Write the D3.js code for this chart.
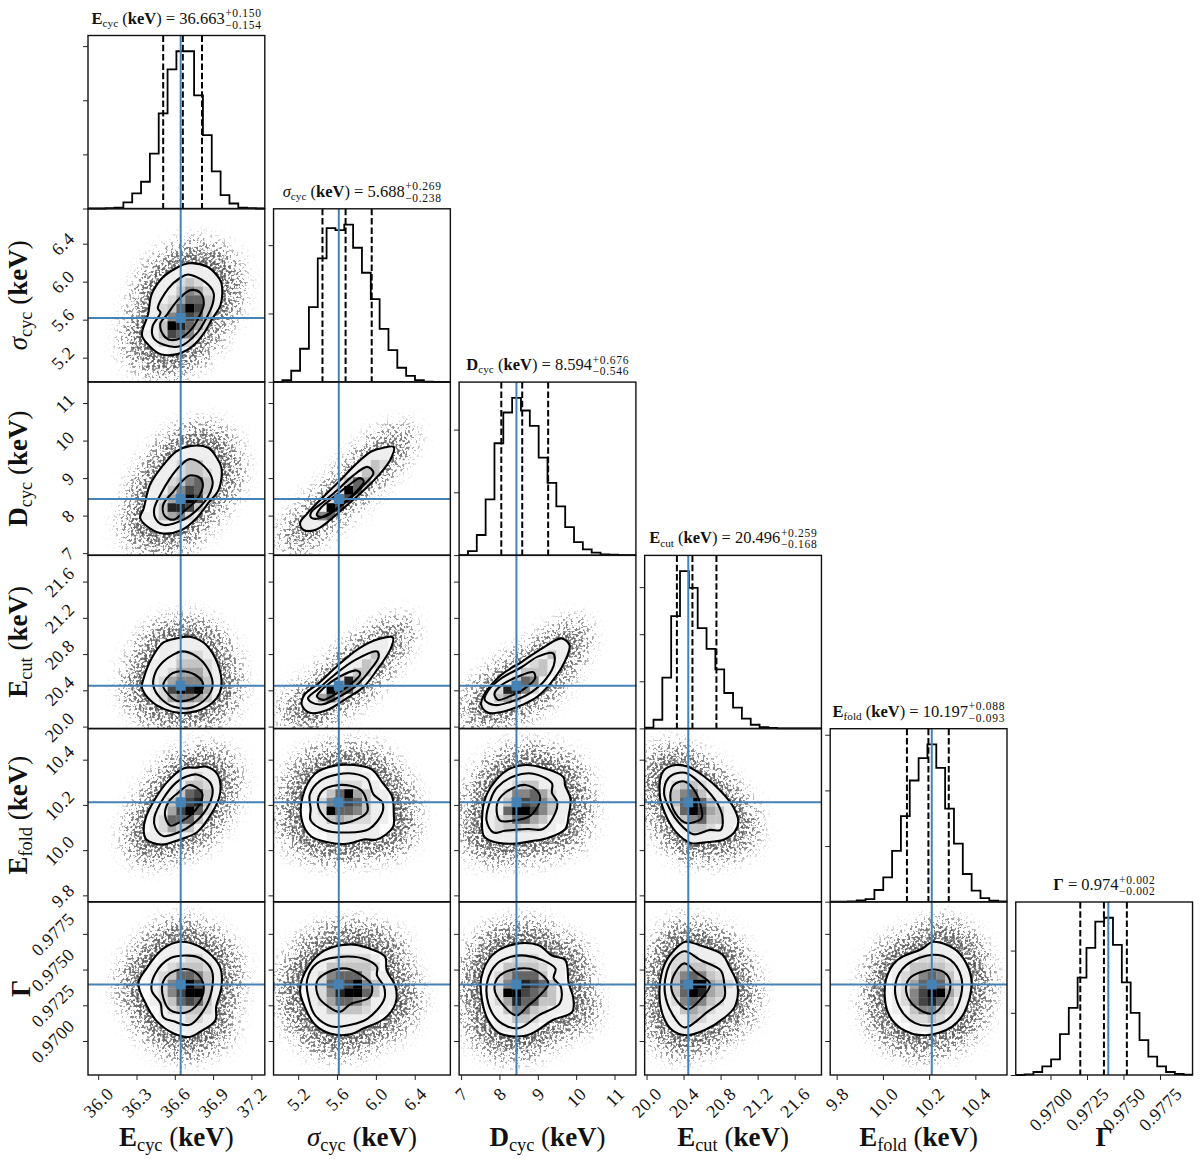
<!DOCTYPE html>
<html>
<head>
<meta charset="utf-8">
<style>
  body { margin: 0; background: #fff; }
  svg text { font-family: "Liberation Serif", serif; fill: #111; white-space: pre; }
</style>
<script src="https://cdn.jsdelivr.net/npm/d3@7"></script>
</head>
<body>
<svg id="chart" width="1200" height="1159"></svg>
<script>
// parameter names
var symbols = ["E", "σ", "D", "E", "E", "Γ"];
var subscripts = ["cyc", "cyc", "cyc", "cut", "fold", ""];

// axis ranges and ticks
var ranges = [[35.92, 37.305], [4.946, 6.767], [6.948, 11.558], [19.98, 21.889], [9.772, 10.537], [0.96762, 0.97973]];
var tickValues = [[36.0, 36.3, 36.6, 36.9, 37.2], [5.2, 5.6, 6.0, 6.4], [7, 8, 9, 10, 11], [20.0, 20.4, 20.8, 21.2, 21.6], [9.8, 10.0, 10.2, 10.4], [0.97, 0.9725, 0.975, 0.9775]];
var tickLabels = [["36.0", "36.3", "36.6", "36.9", "37.2"], ["5.2", "5.6", "6.0", "6.4"], ["7", "8", "9", "10", "11"], ["20.0", "20.4", "20.8", "21.2", "21.6"], ["9.8", "10.0", "10.2", "10.4"], ["0.9700", "0.9725", "0.9750", "0.9775"]];

// truth values (blue lines), quantiles (dashed), title strings
var truths = [36.646, 5.618, 8.443, 20.451, 10.2115, 0.97396];
var quantiles = [[36.509, 36.663, 36.813], [5.45, 5.688, 5.957], [8.048, 8.594, 9.27], [20.328, 20.496, 20.755], [10.104, 10.197, 10.285], [0.97204, 0.97366, 0.97523]];
var titleMedian = ["36.663", "5.688", "8.594", "20.496", "10.197", "0.974"];
var titlePlus = ["+0.150", "+0.269", "+0.676", "+0.259", "+0.088", "+0.002"];
var titleMinus = ["−0.154", "−0.238", "−0.546", "−0.168", "−0.093", "−0.002"];

// histogram counts, 20 bins per parameter
var hist0 = [0, 0, 3, 9, 56, 139, 247, 507, 878, 1286, 1453, 1453, 1045, 677, 343, 124, 46, 9, 3, 0];
var hist1 = [0, 12, 81, 242, 547, 903, 1125, 1110, 1151, 981, 798, 605, 388, 232, 103, 44, 12, 2, 0, 0];
var hist2 = [0, 32, 160, 444, 891, 1136, 1253, 1152, 1029, 777, 575, 388, 223, 104, 45, 19, 5, 3, 0, 0];
var hist3 = [7, 92, 539, 1192, 1670, 1493, 1064, 844, 627, 376, 220, 103, 39, 14, 4, 0, 0, 0, 0, 0];
var hist4 = [0, 0, 3, 12, 24, 105, 219, 456, 768, 1089, 1290, 1413, 1203, 837, 522, 249, 99, 33, 9, 3];
var hist5 = [0, 5, 24, 70, 126, 328, 540, 783, 1022, 1232, 1264, 1046, 745, 500, 280, 148, 70, 24, 8, 3];
var hists = [hist0, hist1, hist2, hist3, hist4, hist5];
var histTicks = [[0, 500, 1000, 1500], [0, 500, 1000], [0, 500, 1000], [0, 500, 1000, 1500], [0, 500, 1000, 1500], [0, 500, 1000]];

// contours, read on the 20x20 histogram grid (x bin, y bin pairs): outer, middle, inner
var contours10 = [
  [11.4,13.7, 13.5,13.3, 14.5,12.4, 15.1,11.4, 15.0,8.9, 14.0,7.2, 13.1,5.6, 11.8,4.1, 10.1,3.2, 8.2,3.2, 6.8,4.3, 6.1,5.4, 6.8,7.8, 7.2,10.1, 8.4,12.0, 9.9,13.1],
  [11.3,12.4, 13.3,11.5, 14.2,10.3, 14.1,9.0, 13.3,7.2, 12.3,5.6, 10.4,4.1, 8.5,4.3, 7.4,5.1, 7.3,6.4, 8.2,8.0, 7.9,8.5, 9.1,10.8, 10.4,12.0],
  [11.6,10.6, 12.7,10.3, 13.1,9.0, 12.5,7.4, 11.8,6.2, 10.4,5.0, 9.1,4.9, 8.4,5.6, 8.2,6.8, 8.9,7.7, 10.2,9.5]];
var contours20 = [
  [11.5,12.6, 13.6,12.4, 14.6,11.2, 15.1,10.1, 14.8,7.6, 13.6,6.0, 12.3,4.3, 10.6,2.9, 8.5,2.5, 7.0,3.1, 5.9,4.3, 6.3,5.4, 7.0,8.1, 8.5,10.4, 10.0,12.0],
  [11.5,11.1, 13.1,10.3, 14.1,8.5, 13.6,6.8, 12.3,5.2, 10.8,4.1, 8.5,3.5, 7.6,4.3, 7.5,5.4, 8.2,7.0, 9.3,8.9, 10.4,10.3],
  [11.5,9.2, 12.7,8.9, 13.0,8.1, 12.3,6.4, 11.0,5.2, 9.7,4.1, 8.7,4.5, 8.5,5.8, 9.7,7.4, 10.6,8.5]];
var contours21 = [
  [13.6,12.5, 13.2,11.0, 11.9,9.25, 10.0,7.3, 7.9,5.4, 6.2,3.9, 4.7,2.9, 3.4,2.9, 3.0,3.7, 3.8,4.8, 5.5,6.6, 7.4,8.5, 9.2,10.4, 11.1,12.0, 12.4,12.4],
  [10.6,10.2, 11.3,9.5, 10.2,8.1, 8.5,6.4, 6.6,5.0, 4.9,4.2, 4.2,4.4, 4.3,5.0, 5.7,6.2, 7.2,7.5, 8.9,9.1],
  [9.8,8.9, 10.2,8.5, 8.9,6.9, 7.2,5.4, 5.7,4.4, 4.9,4.6, 5.3,5.4, 6.8,6.7, 8.3,7.9]];
var contours30 = [
  [11.5,10.6, 13.1,9.9, 14.4,8.1, 15.1,5.6, 14.9,4.1, 14.0,2.9, 12.3,2.0, 10.4,1.8, 8.7,2.2, 7.2,3.1, 6.1,4.7, 6.3,5.8, 7.2,8.1, 8.5,9.9, 10.0,10.4],
  [10.6,8.9, 12.3,8.3, 13.6,6.8, 14.1,4.9, 13.4,3.5, 11.7,2.4, 9.7,2.5, 8.2,3.5, 7.4,4.9, 7.6,6.4, 8.5,7.7, 9.6,8.5],
  [10.6,6.6, 12.1,6.2, 13.0,5.2, 12.7,4.1, 11.5,3.3, 10.0,3.2, 9.1,3.9, 8.5,4.9, 8.9,5.8, 9.6,6.4]];
var contours31 = [
  [13.5,10.5, 13.2,9.1, 11.8,6.9, 10.2,4.8, 8.3,3.5, 6.0,2.1, 4.1,1.8, 3.2,2.7, 3.5,3.9, 5.1,5.2, 7.3,7.3, 9.6,9.2, 11.8,10.3],
  [11.7,8.9, 11.9,8.3, 10.9,6.7, 9.2,4.8, 7.5,3.7, 5.6,2.8, 4.3,3.0, 3.9,3.5, 5.1,4.6, 6.9,6.2, 9.2,7.9],
  [9.4,6.7, 9.8,6.3, 8.6,5.0, 6.9,3.9, 5.6,3.3, 4.9,3.7, 5.6,4.6, 7.5,6.0]];
var contours32 = [
  [11.6,10.4, 12.5,9.6, 12.2,8.3, 10.8,5.8, 8.9,3.7, 7.1,2.7, 4.8,1.9, 3.3,1.8, 2.5,2.7, 2.9,4.0, 4.8,6.2, 7.1,7.7, 9.3,9.2],
  [10.6,8.7, 10.8,7.7, 9.9,5.8, 8.2,4.2, 5.9,3.1, 4.0,2.7, 2.9,3.3, 3.3,4.4, 4.8,5.8, 7.1,7.1, 8.9,8.3],
  [8.4,6.5, 8.6,5.8, 7.4,4.6, 5.7,3.7, 4.4,3.3, 4.0,4.0, 4.8,5.0, 6.7,6.0]];
var contours40 = [
  [13.4,15.6, 14.6,14.8, 15.0,13.4, 14.8,11.9, 13.6,9.6, 12.3,8.0, 10.4,7.2, 8.3,6.6, 6.6,7.2, 6.3,8.2, 6.5,9.6, 7.6,11.9, 9.1,14.0, 10.8,15.4, 12.3,15.5],
  [12.3,14.7, 13.8,13.8, 14.1,12.6, 13.4,10.7, 11.9,9.0, 10.2,8.0, 8.5,7.6, 7.6,8.6, 7.5,9.7, 8.5,11.9, 10.0,13.8, 11.2,14.5],
  [11.5,13.5, 12.9,12.6, 12.9,11.9, 11.9,10.3, 10.4,9.2, 9.3,8.8, 8.7,10.1, 9.1,11.5, 10.2,12.6]];
var contours41 = [
  [9.1,15.8, 11.1,15.3, 12.3,13.8, 13.4,12.2, 13.6,10.1, 13.5,8.6, 11.7,7.2, 10.2,7.2, 8.3,6.7, 6.0,6.9, 4.2,7.6, 3.2,9.4, 3.3,12.2, 4.7,14.8, 6.8,15.7],
  [9.1,14.8, 10.6,14.2, 11.3,12.4, 12.3,11.5, 12.3,10.3, 10.8,8.4, 8.3,8.0, 5.7,8.3, 4.2,9.4, 4.2,10.7, 4.1,12.4, 5.3,14.0, 7.2,14.7],
  [8.7,13.4, 10.0,12.8, 10.6,11.3, 10.6,10.4, 9.1,9.4, 6.8,9.1, 5.5,10.1, 5.0,11.5, 5.5,12.8, 6.8,13.4]];
var contours42 = [
  [7.5,15.8, 9.7,15.4, 11.8,14.4, 12.0,13.4, 12.6,11.9, 12.4,10.0, 12.0,8.4, 10.1,7.4, 8.2,7.0, 6.0,6.7, 3.7,7.0, 2.8,7.6, 2.6,9.7, 3.0,12.1, 4.3,14.2, 5.6,15.3],
  [8.4,14.8, 10.5,13.7, 10.5,12.6, 11.1,11.5, 10.9,10.3, 9.5,8.4, 7.8,8.4, 5.2,8.2, 3.9,8.0, 3.1,9.4, 3.6,11.9, 4.3,13.2, 6.2,14.5],
  [7.5,13.5, 9.0,12.6, 9.1,11.5, 8.0,9.9, 6.3,9.4, 4.6,9.4, 4.3,11.3, 5.2,12.6]];
var contours43 = [
  [3.5,15.8, 4.9,15.6, 6.7,14.5, 8.6,12.8, 10.0,11.0, 10.6,9.3, 10.2,8.1, 9.0,7.2, 7.2,6.9, 5.2,6.8, 3.5,8.1, 2.3,10.2, 1.7,12.5, 2.1,15.1],
  [3.9,14.9, 4.9,14.8, 6.5,13.5, 8.2,11.4, 8.8,9.8, 8.6,8.3, 7.4,8.3, 5.5,7.8, 3.9,9.1, 2.9,10.6, 2.2,12.5, 2.7,14.3],
  [4.5,13.9, 5.9,12.4, 6.5,9.8, 6.3,9.5, 4.7,9.1, 3.5,10.2, 2.9,12.2, 3.3,13.5]];
var contours50 = [
  [10.4,15.4, 12.3,15.0, 14.0,13.8, 15.0,12.3, 15.1,10.2, 14.5,7.9, 14.4,6.3, 12.7,5.0, 11.5,4.4, 9.7,4.8, 7.8,6.2, 6.6,8.1, 5.7,10.6, 6.6,12.3, 8.5,14.6],
  [11.4,13.8, 12.7,13.5, 14.0,12.1, 14.0,9.8, 13.1,7.5, 11.5,5.8, 9.7,6.2, 8.5,6.7, 8.2,8.3, 7.2,9.8, 7.6,11.7, 9.3,13.5],
  [11.4,12.2, 12.7,11.3, 13.1,10.0, 12.5,8.3, 11.0,7.2, 9.3,7.5, 8.5,9.0, 8.5,10.8, 9.5,11.9]];
var contours51 = [
  [8.7,15.1, 10.6,14.7, 12.6,13.7, 12.8,12.1, 13.8,10.2, 13.8,8.3, 12.5,6.5, 10.2,5.4, 8.7,4.7, 6.4,4.8, 4.7,5.8, 3.6,7.7, 3.0,9.8, 3.9,12.5, 5.8,14.4],
  [8.3,13.7, 10.6,13.3, 11.7,12.5, 11.7,11.5, 12.5,10.2, 12.5,8.7, 10.6,6.5, 8.7,5.8, 6.6,5.6, 4.7,6.9, 4.0,8.7, 3.8,11.0, 4.9,12.9],
  [8.3,12.3, 10.0,11.5, 11.1,10.4, 10.9,9.0, 8.7,8.2, 7.5,7.3, 6.2,7.9, 5.1,9.0, 4.9,10.8, 6.2,11.9]];
var contours52 = [
  [6.2,15.1, 9.0,15.0, 10.5,13.8, 12.0,13.3, 12.4,10.6, 12.9,9.0, 12.8,7.3, 10.5,6.3, 8.6,5.0, 7.3,4.5, 4.6,4.8, 3.3,6.3, 2.6,8.6, 2.5,11.2, 3.7,13.8],
  [7.5,13.8, 9.4,13.3, 10.9,12.3, 10.7,11.2, 11.5,10.2, 11.4,8.3, 9.0,6.9, 6.7,5.4, 4.5,6.2, 3.3,8.3, 3.2,10.8, 4.3,12.9, 6.0,13.7],
  [6.7,12.3, 8.6,12.1, 10.1,10.6, 9.3,9.4, 7.7,7.9, 6.5,6.9, 4.8,8.3, 4.0,10.0, 4.6,11.5]];
var contours53 = [
  [4.6,15.4, 6.5,14.9, 8.8,13.9, 9.6,12.5, 10.5,10.4, 10.2,7.9, 9.0,6.6, 6.8,5.2, 4.7,4.6, 3.1,5.2, 2.0,7.1, 1.7,10.2, 2.3,12.9, 3.5,14.6],
  [4.5,14.3, 6.3,13.3, 8.6,12.1, 9.0,10.6, 9.0,8.9, 7.1,7.3, 4.5,5.5, 3.1,7.1, 2.3,9.4, 2.5,11.9, 3.3,13.5],
  [4.5,12.9, 5.9,11.8, 7.4,10.5, 6.1,8.5, 4.9,7.6, 3.7,8.5, 3.0,10.2, 3.5,11.9]];
var contours54 = [
  [10.4,14.6, 11.6,15.4, 14.0,14.6, 15.4,12.9, 16.0,10.6, 15.2,7.3, 13.8,5.6, 10.8,4.6, 8.0,5.4, 6.5,7.3, 6.3,11.0, 7.6,13.3],
  [11.6,13.9, 13.6,13.3, 14.8,11.4, 14.8,9.2, 13.6,6.7, 12.0,5.8, 9.6,6.0, 7.8,7.9, 7.4,10.6, 8.6,12.7],
  [11.8,12.2, 13.2,11.6, 13.6,10.4, 13.0,8.5, 11.6,7.1, 9.6,7.9, 8.6,9.6, 9.0,11.2]];

// 2d histogram darkness (0 white .. 9 black): first x bin, lowest y bin, rows from the top
var cells10 = [6, 3, ["0000011000", "0011111110", "0011232110", "0111354210", "0112466310", "0123697310", "0125776310", "0139864210", "1137652100", "0122221000", "0001100000"]];
var cells20 = [6, 3, ["0000011100", "0001111110", "0011233110", "0011233210", "0112356310", "0113576310", "0124797210", "0138873100", "1134521000", "0111111000"]];
var cells21 = [3, 2, ["00000000011", "00000001111", "00000011320", "00000113310", "00001364100", "00012963100", "00126731000", "01197310000", "11563100000", "11110000000", "11000000000"]];
var cells30 = [6, 1, ["0001111000", "0011111100", "0011222110", "0111333210", "0112444210", "0124555310", "0127989411", "0124554310", "0011221110", "0000110000"]];
var cells31 = [3, 1, ["00000000110", "00000001110", "00000111310", "00000113200", "00001133100", "00012841000", "00196620000", "01463100000", "11110000000", "10000000000"]];
var cells32 = [2, 2, ["00000000110", "00000001111", "00000111311", "00001123110", "00011333100", "00113651000", "01288520000", "11343100000", "11111000000"]];
var cells40 = [6, 6, ["0000011100", "0000112110", "0001133210", "0011367310", "0013578310", "0114796210", "0126663110", "0124331100", "1111111000", "0011000000"]];
var cells41 = [3, 6, ["00000110000", "00111111000", "01112221100", "01136943110", "01258763110", "01296653110", "01134322110", "00111111100", "00011111100", "00000100000"]];
var cells42 = [2, 6, ["00001111000", "00111111110", "01112331110", "01125564211", "01136765311", "01169975311", "01236643110", "01233221100", "01111111000", "00011000000"]];
var cells43 = [1, 6, ["01111000000", "01111110000", "01233211000", "01356311100", "01369631110", "01269743110", "00135633110", "00013321100", "00001111110", "00001100000"]];
var cells50 = [6, 4, ["0000100000", "0011111100", "0011122110", "0112333210", "0123665310", "0125797311", "0125799311", "0123676310", "0012333210", "0011122110", "0001111110", "0000011000"]];
var cells51 = [3, 4, ["00011110000", "01111111000", "01112222100", "01133333200", "01256663110", "01267795311", "01258996311", "01246653111", "01133332110", "00111111100", "00011111000", "00001100000"]];
var cells52 = [2, 4, ["00011110000", "01111111000", "01112221110", "01133332110", "01246663110", "01257876310", "01299765311", "01248663311", "01135532111", "00113321100", "00111110000", "00001100000"]];
var cells53 = [1, 4, ["01111000000", "01111111000", "01222111100", "01233321100", "01356532110", "01369943211", "01369843110", "01256532110", "01134321100", "01113211000", "00111110000", "00010000000"]];
var cells54 = [6, 4, ["00000110000", "00111111000", "01112221100", "01133332110", "01235653110", "01246863210", "01257994210", "01257863110", "01135532110", "00122321100", "00011111000", "00000100000"]];

var contourTable = {"1,0": contours10, "2,0": contours20, "2,1": contours21, "3,0": contours30, "3,1": contours31, "3,2": contours32, "4,0": contours40, "4,1": contours41, "4,2": contours42, "4,3": contours43, "5,0": contours50, "5,1": contours51, "5,2": contours52, "5,3": contours53, "5,4": contours54};
var cellTable = {"1,0": cells10, "2,0": cells20, "2,1": cells21, "3,0": cells30, "3,1": cells31, "3,2": cells32, "4,0": cells40, "4,1": cells41, "4,2": cells42, "4,3": cells43, "5,0": cells50, "5,1": cells51, "5,2": cells52, "5,3": cells53, "5,4": cells54};

var blue = "#4682b4";
var panelW = 176.8, panelH = 173;
var svg = d3.select("#chart");
var grey = d3.scaleLinear().domain([0, 1, 3, 5, 7, 9]).range(["#fbfbfb", "#eeeeee", "#c4c4c4", "#858585", "#454545", "#000000"]);

function colX(i) { return 88 + i * 185.55; }
function rowY(i) { return 35.5 + i * 173.3; }

function pairs(flat) {
  var out = [];
  for (var i = 0; i < flat.length; i += 2) out.push([flat[i], flat[i + 1]]);
  return out;
}

// speckle standing in for the cloud of samples outside the contours:
// noise + blurred shape - 1, so the dots thin out as the shape fades
var defs = svg.append("defs");
var speck = defs.append("filter").attr("id", "speck").attr("filterUnits", "userSpaceOnUse")
  .attr("x", 0).attr("y", 0).attr("width", 1200).attr("height", 1159)
  .attr("color-interpolation-filters", "sRGB");
speck.append("feGaussianBlur").attr("in", "SourceGraphic").attr("stdDeviation", 11).attr("result", "soft");
speck.append("feTurbulence").attr("type", "fractalNoise").attr("baseFrequency", 0.38).attr("numOctaves", 2).attr("seed", 4).attr("result", "noise");
speck.append("feColorMatrix").attr("in", "noise").attr("type", "matrix")
  .attr("values", "0 0 0 0 0  0 0 0 0 0  0 0 0 0 0  3.4 0 0 0 -1.2").attr("result", "dots");
speck.append("feComposite").attr("in", "soft").attr("in2", "dots").attr("operator", "arithmetic")
  .attr("k1", 0).attr("k2", 0.9).attr("k3", 1).attr("k4", -1).attr("result", "mix");
var fade = speck.append("feComponentTransfer").attr("in", "mix").attr("result", "spots");
fade.append("feFuncR").attr("type", "linear").attr("slope", 0);
fade.append("feFuncG").attr("type", "linear").attr("slope", 0);
fade.append("feFuncB").attr("type", "linear").attr("slope", 0);
fade.append("feFuncA").attr("type", "table").attr("tableValues", "0 0.38 0.52 0.62 0.68");
speck.append("feGaussianBlur").attr("in", "spots").attr("stdDeviation", 0.7);

// label with bold symbols and a small subscript, as tspans
function mathLabel(text, param, size, withUnit) {
  var subSize = size * 0.68, drop = size * 0.2;
  var isSigma = symbols[param] === "σ";
  text.append("tspan").attr("font-weight", isSigma ? "normal" : "bold").attr("font-style", isSigma ? "italic" : "normal").text(symbols[param]);
  if (subscripts[param]) {
    text.append("tspan").attr("font-size", subSize).attr("dy", drop).text(subscripts[param]);
    text.append("tspan").attr("dy", -drop).attr("font-size", size).text(" ");
  }
  if (withUnit && param < 5) {
    text.append("tspan").attr("font-size", size).text("(");
    text.append("tspan").attr("font-size", size).attr("font-weight", "bold").text("keV");
    text.append("tspan").attr("font-size", size).text(")");
  }
}

function drawTitle(param) {
  var cx = colX(param) + panelW / 2, base = rowY(param) - 12;
  var g = svg.append("g").attr("class", "title");
  var main = g.append("text").attr("y", base).attr("font-size", 16.5);
  mathLabel(main, param, 16.5, true);
  main.append("tspan").attr("font-size", 16.5).text(" = " + titleMedian[param]);
  var up = g.append("text").attr("y", base - 6.5).attr("font-size", 11.5).attr("letter-spacing", 0.7).text(titlePlus[param]);
  var down = g.append("text").attr("y", base + 5).attr("font-size", 11.5).attr("letter-spacing", 0.7).text(titleMinus[param]);
  var w = main.node().getComputedTextLength();
  var ws = Math.max(up.node().getComputedTextLength(), down.node().getComputedTextLength());
  var x0 = cx - (w + ws) / 2;
  main.attr("x", x0);
  up.attr("x", x0 + w + 0.5);
  down.attr("x", x0 + w + 0.5);
}

function rotateBottom(axisG) {
  axisG.selectAll("text").each(function() {
    var t = d3.select(this);
    var side = (this.getComputedTextLength() + 11) * Math.SQRT1_2;
    t.attr("x", 0).attr("y", 0).attr("dy", "0.33em").attr("text-anchor", "middle")
      .attr("transform", "translate(0," + (12 + side / 2) + ") rotate(-45)");
  });
}

function rotateLeft(axisG) {
  axisG.selectAll("text").each(function() {
    var t = d3.select(this);
    var side = (this.getComputedTextLength() + 11) * Math.SQRT1_2;
    t.attr("x", 0).attr("y", 0).attr("dy", "0.33em").attr("text-anchor", "middle")
      .attr("transform", "translate(" + (-12.5 - side / 2) + ",0) rotate(-45)");
  });
}

function styleAxis(axisG) {
  axisG.select(".domain").remove();
  axisG.selectAll("line").attr("stroke", "#222").attr("stroke-width", 1);
  axisG.selectAll("text").attr("font-size", 18).attr("letter-spacing", 0.5).attr("fill", "#111");
  axisG.attr("font-family", null).attr("font-size", null);
}

function drawHist(c) {
  var left = colX(c), top = rowY(c), bottom = top + panelH;
  var x = d3.scaleLinear().domain(ranges[c]).range([left, left + panelW]);
  var bins = d3.scaleLinear().domain([0, 20]).range(ranges[c]);
  var counts = hists[c];
  var y = d3.scaleLinear().domain([0, 1.1 * d3.max(counts)]).range([bottom, top]);
  var g = svg.append("g").attr("class", "hist");
  var pts = counts.map(function(v, i) { return [i, v]; });
  pts.push([20, counts[19]]);
  var step = d3.line().curve(d3.curveStepAfter)
    .x(function(d) { return x(bins(d[0])); })
    .y(function(d) { return y(d[1]); });
  g.append("path").attr("d", step(pts)).attr("fill", "none").attr("stroke", "#000").attr("stroke-width", 1.8);
  g.selectAll("line.q").data(quantiles[c]).enter().append("line").attr("class", "q")
    .attr("x1", x).attr("x2", x).attr("y1", top).attr("y2", bottom)
    .attr("stroke", "#000").attr("stroke-width", 2).attr("stroke-dasharray", "6.5,2.8");
  g.append("line").attr("x1", x(truths[c])).attr("x2", x(truths[c])).attr("y1", top).attr("y2", bottom)
    .attr("stroke", blue).attr("stroke-width", 2);
  g.append("rect").attr("x", left).attr("y", top).attr("width", panelW).attr("height", panelH)
    .attr("fill", "none").attr("stroke", "#111").attr("stroke-width", 1.4);
  var ax = g.append("g").attr("transform", "translate(" + left + ",0)")
    .call(d3.axisLeft(y).tickValues(histTicks[c]).tickSize(5).tickFormat(""));
  styleAxis(ax);
  if (c === 5) {
    var bx = g.append("g").attr("transform", "translate(0," + bottom + ")")
      .call(d3.axisBottom(x).tickValues(tickValues[c]).tickSize(5).tickFormat(function(d, i) { return tickLabels[c][i]; }));
    styleAxis(bx);
    rotateBottom(bx);
  }
}

function drawPair(r, c) {
  var key = r + "," + c;
  var left = colX(c), top = rowY(r), bottom = top + panelH;
  var x = d3.scaleLinear().domain(ranges[c]).range([left, left + panelW]);
  var y = d3.scaleLinear().domain(ranges[r]).range([bottom, top]);
  var binX = d3.scaleLinear().domain([0, 20]).range(ranges[c]);
  var binY = d3.scaleLinear().domain([0, 20]).range(ranges[r]);
  var line = d3.line().curve(d3.curveCatmullRomClosed.alpha(0.5))
    .x(function(d) { return x(binX(d[0])); })
    .y(function(d) { return y(binY(d[1])); });
  var shapes = contourTable[key].map(pairs);
  var g = svg.append("g").attr("class", "pair");

  var panelClip = "panel" + r + c, outerClip = "outer" + r + c;
  defs.append("clipPath").attr("id", panelClip).append("rect")
    .attr("x", left).attr("y", top).attr("width", panelW).attr("height", panelH);
  defs.append("clipPath").attr("id", outerClip).append("path").attr("d", line(shapes[0]));

  // cloud: outer contour pushed out from its centre, blurred and speckled
  var cen = d3.polygonCentroid(shapes[0]);
  var cloud = shapes[0].map(function(p) {
    return [cen[0] + (p[0] - cen[0]) * 1.42, cen[1] + (p[1] - cen[1]) * 1.42];
  });
  g.append("g").attr("clip-path", "url(#" + panelClip + ")")
    .append("path").attr("d", line(cloud)).attr("fill", "#000").attr("filter", "url(#speck)");

  g.append("path").attr("d", line(shapes[0])).attr("fill", "#fff");

  var cellInfo = cellTable[key], cellData = [];
  cellInfo[2].forEach(function(row, i) {
    row.split("").forEach(function(ch, j) {
      cellData.push({col: cellInfo[0] + j, bin: cellInfo[1] + cellInfo[2].length - 1 - i, v: +ch});
    });
  });
  g.append("g").attr("clip-path", "url(#" + outerClip + ")")
    .selectAll("rect").data(cellData).enter().append("rect")
    .attr("x", function(d) { return x(binX(d.col)); })
    .attr("width", function(d) { return x(binX(d.col + 1)) - x(binX(d.col)) + 0.3; })
    .attr("y", function(d) { return y(binY(d.bin + 1)); })
    .attr("height", function(d) { return y(binY(d.bin)) - y(binY(d.bin + 1)) + 0.3; })
    .attr("fill", function(d) { return grey(d.v); });

  g.selectAll("path.contour").data(shapes).enter().append("path").attr("class", "contour")
    .attr("d", line).attr("fill", "none").attr("stroke", "#000").attr("stroke-width", 2.1);

  // truth lines and marker
  g.append("line").attr("x1", x(truths[c])).attr("x2", x(truths[c])).attr("y1", top).attr("y2", bottom)
    .attr("stroke", blue).attr("stroke-width", 2);
  g.append("line").attr("x1", left).attr("x2", left + panelW).attr("y1", y(truths[r])).attr("y2", y(truths[r]))
    .attr("stroke", blue).attr("stroke-width", 2);
  g.append("path").attr("transform", "translate(" + x(truths[c]) + "," + y(truths[r]) + ")")
    .attr("d", d3.symbol().type(d3.symbolSquare).size(100)).attr("fill", blue);

  g.append("rect").attr("x", left).attr("y", top).attr("width", panelW).attr("height", panelH)
    .attr("fill", "none").attr("stroke", "#111").attr("stroke-width", 1.4);

  var ay = g.append("g").attr("transform", "translate(" + left + ",0)")
    .call(d3.axisLeft(y).tickValues(tickValues[r]).tickSize(5).tickFormat(function(d, i) { return c === 0 ? tickLabels[r][i] : ""; }));
  styleAxis(ay);
  if (c === 0) rotateLeft(ay);
  if (r === 5) {
    var ax = g.append("g").attr("transform", "translate(0," + bottom + ")")
      .call(d3.axisBottom(x).tickValues(tickValues[c]).tickSize(5).tickFormat(function(d, i) { return tickLabels[c][i]; }));
    styleAxis(ax);
    rotateBottom(ax);
  }
}

for (var r = 0; r < 6; r++) {
  for (var c = 0; c <= r; c++) {
    if (r === c) drawHist(c);
    else drawPair(r, c);
  }
  drawTitle(r);
}

// axis labels
d3.range(6).forEach(function(i) {
  var xl = svg.append("text").attr("x", colX(i) + panelW / 2).attr("y", 1146)
    .attr("text-anchor", "middle").attr("font-size", 27);
  mathLabel(xl, i, 27, true);
  if (i > 0) {
    var yl = svg.append("text").attr("text-anchor", "middle").attr("font-size", 27)
      .attr("transform", "translate(" + (i === 5 ? 30 : 27) + "," + (rowY(i) + panelH / 2) + ") rotate(-90)");
    mathLabel(yl, i, 27, true);
  }
});
</script>
</body>
</html>
